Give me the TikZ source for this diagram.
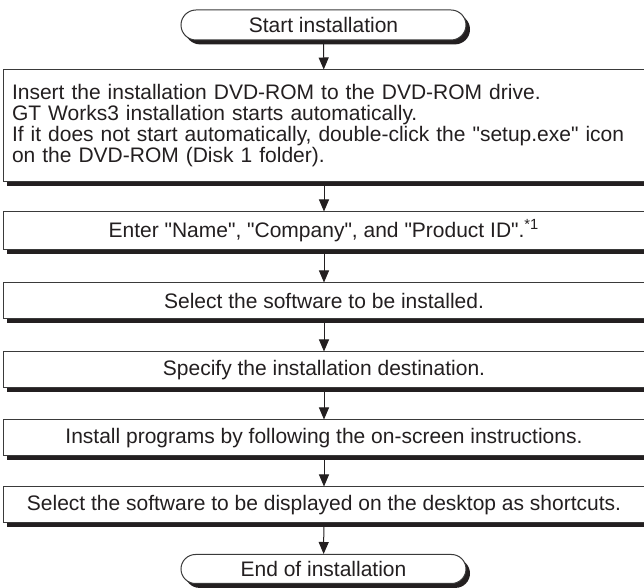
\documentclass[tikz,border=0pt]{standalone}
\usepackage{fontspec}
\setmainfont{Liberation Sans}[Ligatures=TeXOff]
\usetikzlibrary{arrows.meta}
\usetikzlibrary{shapes.misc}
\usetikzlibrary{shadows}
\definecolor{inkGray}{HTML}{231F20}
\definecolor{edgeGray}{HTML}{3A3A3A}
\tikzset{
  stepBox/.style={%
    rectangle, draw=edgeGray, line width=0.5pt, fill=white,
    minimum width=321pt, minimum height=18pt, inner xsep=4.5pt,
    text=inkGray, font=\fontsize{10.5}{10.5}\selectfont,
    drop shadow={shadow xshift=2pt, shadow yshift=-2.2pt, fill=inkGray, opacity=1},
  },
  termNode/.style={%
    stepBox, rounded rectangle, minimum width=151.5pt, minimum height=15pt,
  },
  flowArrow/.style={%
    draw=inkGray, line width=0.5pt, -{Triangle[width=5pt,length=6pt]},
  }
}
\begin{document}
\begin{tikzpicture}[x=0.5pt,y=-0.5pt]
                \useasboundingbox (0,0) rectangle (644,588);
                \node[termNode]
                  (begin) at (323.5,25) {Start installation};
                \node[stepBox, minimum height=56pt, text width=312pt, align=left]
                  (insert) at (324,126) {Insert the installation DVD-ROM to the DVD-ROM drive.\\
                  GT Works3 installation starts automatically.\\
                  If it does not start automatically, double-click the "setup.exe" icon\\
                  on the DVD-ROM (Disk 1 folder).};
                \node[stepBox, minimum height=19pt]
                  (enter) at (324,231) {Enter "Name", "Company", and "Product ID".\textsuperscript{*1}};
                \node[stepBox]
                  (select) at (324,301) {Select the software to be installed.};
                \node[stepBox]
                  (dest) at (324,370) {Specify the installation destination.};
                \node[stepBox]
                  (install) at (324,438) {Install programs by following the on-screen instructions.};
                \node[stepBox]
                  (shortcut) at (324,505) {Select the software to be displayed on the desktop as shortcuts.};
                \node[termNode, minimum height=14.5pt]
                  (finish) at (323.5,569) {End of installation};
                \draw[flowArrow] (begin) -- (insert);
                \draw[flowArrow] (insert) -- (enter);
                \draw[flowArrow] (enter) -- (select);
                \draw[flowArrow] (select) -- (dest);
                \draw[flowArrow] (dest) -- (install);
                \draw[flowArrow] (install) -- (shortcut);
                \draw[flowArrow] (shortcut) -- (finish);
              \end{tikzpicture}
\end{document}
